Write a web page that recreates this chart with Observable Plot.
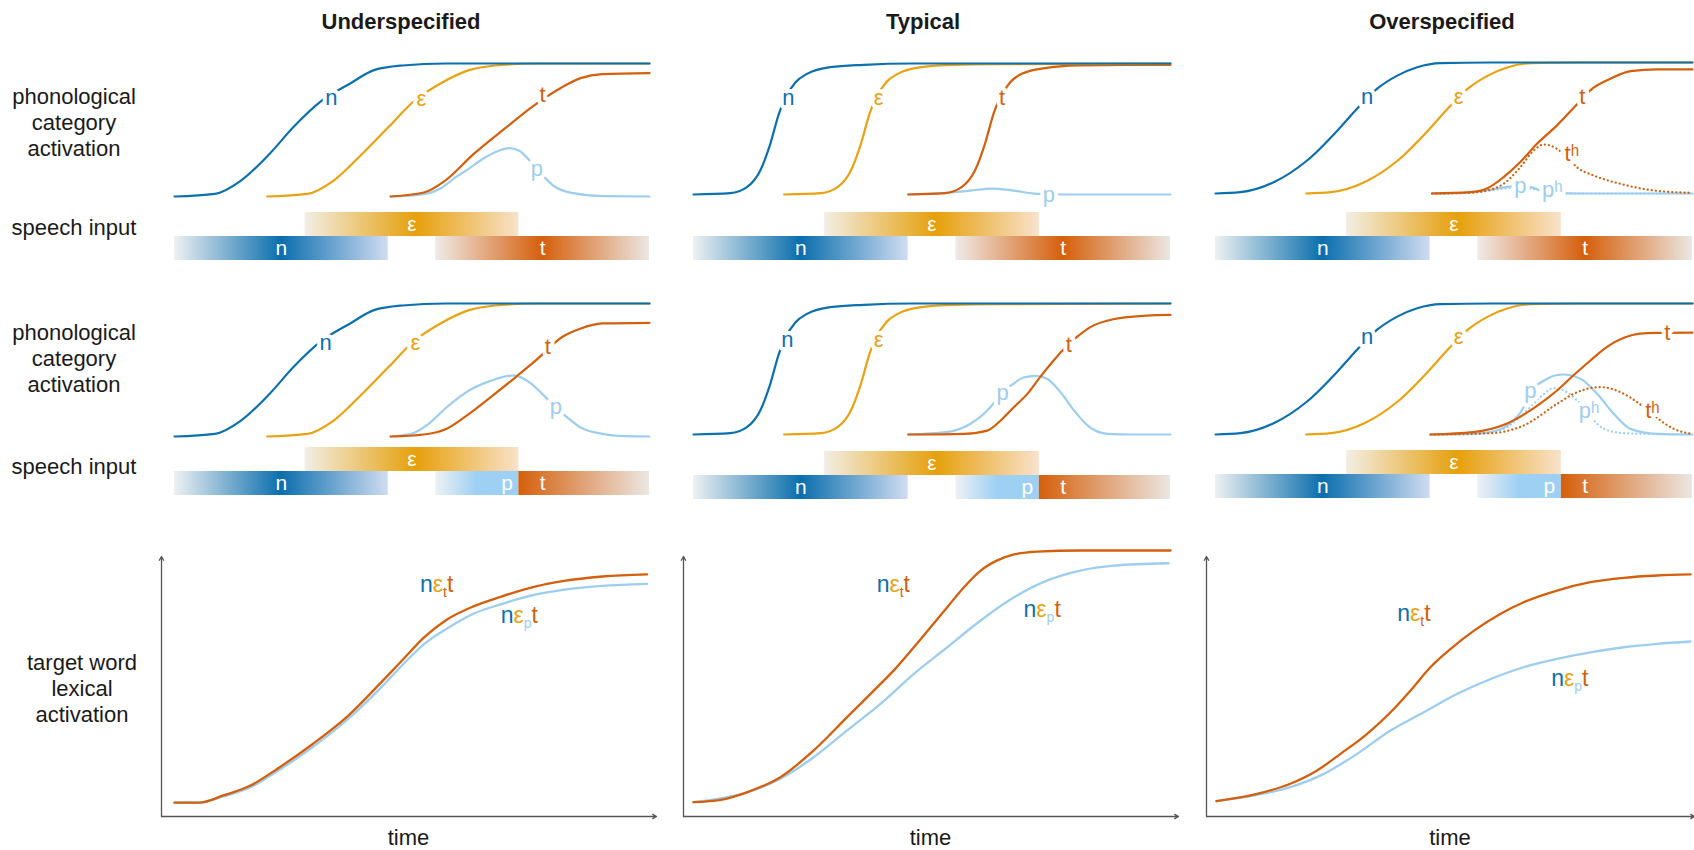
<!DOCTYPE html>
<html>
<head>
<meta charset="utf-8">
<script src="https://cdn.jsdelivr.net/npm/d3@7"></script>
<script src="https://cdn.jsdelivr.net/npm/@observablehq/plot@0.6"></script>
<style>
html,body{margin:0;padding:0;background:#fff;}
#fig{position:relative;width:1694px;height:850px;overflow:hidden;background:#fff;}
.lab{position:absolute;white-space:pre;text-align:center;color:#1a1a1a;line-height:26px;transform:translate(-50%,-50%);}
svg{overflow:visible;}
</style>
</head>
<body>
<div id="fig"></div>
<svg width="0" height="0" style="position:absolute">
  <defs id="gradDefs"></defs>
</svg>
<script>
// ================= DATA =================
const conditions = ["Underspecified", "Typical", "Overspecified"];
const rowTitles = ["phonological\ncategory\nactivation", "speech input", "phonological\ncategory\nactivation", "speech input", "target word\nlexical\nactivation"];
const axisTitle = "time";

// ---- Underspecified: phonological category activation [time, activation] ----
const under_n  = [[0,0],[8.5,0.02],[14,0.12],[20,0.32],[25,0.52],[31,0.72],[37,0.85],[42,0.95],[48,0.985],[57,1],[100,1]];
const under_e  = [[19.5,0],[28,0.02],[33.5,0.12],[39.5,0.32],[45,0.52],[50.5,0.72],[56,0.85],[62,0.95],[67.5,0.985],[76,1],[100,1]];
const under_t1 = [[45.5,0],[52.5,0.03],[57,0.12],[63,0.32],[69.5,0.51],[75.5,0.68],[81.5,0.82],[85.5,0.89],[90,0.92],[100,0.927]];
const under_p1 = [[45.5,0],[52,0.015],[56,0.06],[59.2,0.145],[62,0.21],[64.8,0.28],[68,0.34],[70.4,0.363],[72.5,0.345],[74,0.3],[76,0.22],[78,0.14],[80,0.075],[84,0.025],[90,0.003],[100,0]];
const under_t2 = [[45.5,0],[52.5,0.015],[57.3,0.058],[62,0.17],[66.7,0.3],[71.4,0.434],[76,0.57],[81.7,0.75],[85.4,0.81],[90,0.85],[100,0.855]];
const under_p2 = [[45.5,0],[49.8,0.02],[53.5,0.095],[57.3,0.22],[62,0.346],[66.7,0.42],[71.4,0.459],[75,0.4],[78,0.3],[80.5,0.21],[82.6,0.145],[85.4,0.07],[90,0.02],[95,0.003],[100,0]];

// ---- Typical ----
const typ_n  = [[0,0],[7.7,0.01],[11.2,0.056],[14,0.183],[16.1,0.387],[17.9,0.616],[19,0.72],[21.4,0.857],[23.8,0.921],[28.7,0.972],[35.7,0.99],[46,1],[100,1]];
const typ_e  = [[19,0],[26.7,0.01],[30.2,0.056],[33,0.183],[35.1,0.387],[36.9,0.616],[38,0.72],[40.4,0.857],[42.8,0.921],[47.7,0.972],[54.7,0.99],[65,0.995],[100,1]];
const typ_t1 = [[45,0],[52.7,0.01],[56.2,0.056],[59,0.183],[61.1,0.387],[62.9,0.616],[64,0.72],[66.4,0.857],[68.8,0.921],[73.7,0.965],[80.7,0.985],[91,0.99],[100,0.99]];
const typ_p1 = [[45,0],[52,0.01],[58,0.03],[62.6,0.045],[67,0.03],[72,0.005],[78,0],[100,0]];
const typ_t2 = [[45,0],[56.7,0.005],[61.6,0.03],[64.4,0.107],[67.2,0.21],[70,0.31],[72.7,0.44],[75.5,0.565],[77.3,0.64],[80.4,0.745],[83.2,0.82],[88,0.88],[95,0.908],[100,0.913]];
const typ_p2 = [[45,0],[53,0.018],[58,0.08],[61.6,0.183],[63.4,0.26],[65,0.33],[67,0.385],[69.2,0.435],[71.7,0.448],[74.2,0.423],[77,0.32],[79.8,0.183],[82.6,0.07],[86.8,0.005],[92,0],[100,0]];

// ---- Overspecified ----
const over_n   = [[0,0],[5.2,0.01],[12.2,0.086],[19.2,0.252],[26.2,0.506],[30,0.66],[33.9,0.8],[38.1,0.9],[42.3,0.964],[47.2,0.995],[57.7,1],[100,1]];
const over_e   = [[19,0],[24.2,0.01],[31.2,0.086],[38.2,0.252],[45.2,0.506],[49,0.66],[52.9,0.8],[57.1,0.9],[61.3,0.964],[66.2,0.995],[76.7,1],[100,1]];
const over_t1  = [[45.4,0],[53.5,0.01],[57,0.04],[60.4,0.125],[63.9,0.24],[67.4,0.38],[71.6,0.52],[75,0.65],[79,0.8],[82.8,0.876],[87,0.934],[92.6,0.947],[100,0.947]];
const over_th1 = [[45.4,0],[53,0.005],[57,0.023],[60.4,0.074],[63.9,0.2],[66.7,0.328],[68.8,0.374],[71.6,0.341],[73.7,0.277],[75.8,0.2],[79.3,0.137],[84.9,0.074],[91.9,0.023],[100,0.005]];
const over_p1  = [[45.4,0],[52,0.005],[56,0.02],[61.8,0.053],[64,0.06],[66.5,0.045],[68.5,0.02],[72,0.005],[76,0],[100,0]];
const over_ph1 = [[45.4,0],[52,0.004],[56,0.015],[61,0.04],[64,0.045],[67,0.03],[70,0.01],[75,0],[100,0]];
const over_t2  = [[45.1,0],[54,0.018],[61,0.082],[68,0.234],[71.6,0.336],[75,0.45],[78.6,0.565],[82,0.667],[85.6,0.738],[89,0.77],[92.5,0.776],[100,0.778]];
const over_th2 = [[45.1,0],[57.7,0.01],[64.6,0.069],[71.6,0.234],[75.1,0.311],[80.7,0.362],[85.6,0.311],[88.4,0.247],[91.2,0.17],[93.3,0.107],[96.1,0.043],[100,0.005]];
const over_p2  = [[45.1,0],[53,0.003],[57.7,0.018],[61.1,0.069],[64.6,0.208],[66,0.32],[68.8,0.41],[72.7,0.458],[76.5,0.425],[80,0.311],[83.5,0.158],[87,0.043],[92.6,0.005],[100,0]];
const over_ph2 = [[45.1,0],[53,0.003],[57.7,0.018],[61.1,0.056],[64.6,0.158],[68.1,0.285],[70.9,0.353],[73.7,0.323],[75.8,0.26],[78,0.17],[80,0.082],[82.8,0.025],[85.6,0.01],[92.6,0.003],[100,0]];

// ---- curve labels ----
const under_lab1 = [{key:"n",text:"n",t:33,v:0.74},{key:"e",text:"ε",t:52,v:0.73},{key:"t",text:"t",t:77.5,v:0.76},{key:"p",text:"p",t:76.3,v:0.21}];
const under_lab2 = [{key:"n",text:"n",t:31.8,v:0.7},{key:"e",text:"ε",t:50.7,v:0.7},{key:"t",text:"t",t:78.6,v:0.67},{key:"p",text:"p",t:80.3,v:0.22}];
const typ_lab1 = [{key:"n",text:"n",t:19.9,v:0.74},{key:"e",text:"ε",t:38.8,v:0.74},{key:"t",text:"t",t:64.7,v:0.74},{key:"p",text:"p",t:74.5,v:0.0}];
const typ_lab2 = [{key:"n",text:"n",t:19.7,v:0.72},{key:"e",text:"ε",t:38.8,v:0.72},{key:"t",text:"t",t:78.7,v:0.68},{key:"p",text:"p",t:64.8,v:0.32}];
const over_lab1 = [{key:"n",text:"n",t:31.8,v:0.735},{key:"e",text:"ε",t:51,v:0.735},{key:"t",text:"t",t:76.9,v:0.735},{key:"th",text:"tʰ",t:74.7,v:0.3},{key:"p",text:"p",t:63.9,v:0.055},{key:"ph",text:"pʰ",t:70.6,v:0.03}];
const over_lab2 = [{key:"n",text:"n",t:31.8,v:0.745},{key:"e",text:"ε",t:51,v:0.745},{key:"t",text:"t",t:94.7,v:0.778},{key:"p",text:"p",t:66,v:0.33},{key:"ph",text:"pʰ",t:78.3,v:0.18},{key:"th",text:"tʰ",t:91.6,v:0.18}];

// ---- speech input segments (time units) ----
const speech1 = [
  {tier:"upper", t1:27.5, t2:72.5, grad:"g_e", label:"ε", lt:50},
  {tier:"lower", t1:0, t2:45, grad:"g_n", label:"n", lt:22.5},
  {tier:"lower", t1:55, t2:100, grad:"g_t", label:"t", lt:77.5}
];
const speech2 = [
  {tier:"upper", t1:27.5, t2:72.5, grad:"g_e", label:"ε", lt:50},
  {tier:"lower", t1:0, t2:45, grad:"g_n", label:"n", lt:22.5},
  {tier:"lower", t1:55, t2:72.5, grad:"g_p", label:"p", lt:70},
  {tier:"lower", t1:72.5, t2:100, grad:"g_t2", label:"t", lt:77.5}
];

// ---- lexical activation (target word) ----
const under_lexT = [0,5.2,10.3,16,21.6,29.1,36.6,43.2,47.9,52.6,57.3,62.9,68.5,76.1,81.7,90.1,99.5];
const under_lex_t = [0.053,0.053,0.081,0.119,0.183,0.279,0.388,0.51,0.6,0.69,0.757,0.808,0.844,0.885,0.905,0.923,0.931];
const under_lex_p = [0.053,0.053,0.077,0.113,0.174,0.267,0.376,0.491,0.581,0.664,0.722,0.78,0.815,0.854,0.872,0.887,0.895];
const typ_lexT_t = [0,5.7,11.2,18.2,25.2,32.2,39.2,42,46.2,49.7,53.2,56.7,60.2,63.7,67.2,72,81.1,100];
const typ_lex_t  = [0.055,0.064,0.093,0.151,0.254,0.382,0.51,0.562,0.651,0.728,0.805,0.882,0.946,0.985,1.008,1.019,1.023,1.023];
const typ_lexT_p = [0,11.2,18.2,25.2,32.2,39.2,46.2,53.2,60.2,67.2,74.2,81.1,88.1,99.6];
const typ_lex_p  = [0.055,0.093,0.145,0.228,0.331,0.433,0.549,0.651,0.754,0.843,0.908,0.946,0.965,0.974];
const over_lexT_t = [0.2,8.7,15.7,21.3,26.2,31.8,36.7,40.9,45.1,49.3,54.2,59.7,64.6,71.6,78.6,85.6,92.6,99.6];
const over_lex_t  = [0.059,0.087,0.126,0.177,0.241,0.318,0.401,0.485,0.575,0.645,0.715,0.779,0.824,0.869,0.901,0.918,0.927,0.931];
const over_lexT_p = [0.2,8.7,15.7,22.7,29.7,36.7,43.7,50.7,57.7,64.6,71.6,78.6,85.6,92.6,99.6];
const over_lex_p  = [0.059,0.083,0.113,0.164,0.241,0.331,0.401,0.472,0.529,0.574,0.606,0.631,0.651,0.664,0.673];
const lexLabelsUnder = [{sub:"t", subKey:"t", t:55.3, v:0.86}, {sub:"p", subKey:"p", t:72.7, v:0.742}];
const lexLabelsTyp   = [{sub:"t", subKey:"t", t:42, v:0.862}, {sub:"p", subKey:"p", t:73.2, v:0.765}];
const lexLabelsOver  = [{sub:"t", subKey:"t", t:41.7, v:0.75}, {sub:"p", subKey:"p", t:74.4, v:0.5}];

// ================= STYLE / LAYOUT =================
const BLUE = "#0d70ae", YELLOW = "#e8a212", ORANGE = "#d45f0c", SKY = "#9dcdef";
const COLOR = {n:BLUE, e:YELLOW, t:ORANGE, p:SKY, th:ORANGE, ph:SKY};
const GRADS = {
  g_n: [[0,"#eef1f3"],[0.5,"#0b6ead"],[1,"#cfdcf1"]],
  g_e: [[0,"#f2eee4"],[0.52,"#e6a00b"],[1,"#f9e2cb"]],
  g_t: [[0,"#efebe8"],[0.5,"#d55f0b"],[1,"#ebe7e3"]],
  g_p: [[0,"#eef1f3"],[0.5,"#9dd0f3"],[1,"#9dd0f3"]],
  g_t2:[[0,"#d55f0b"],[1,"#ebe7e3"]]
};
const COLS = [
  {x0:174, x1:649, axL:161, axR:656, phon:[[196,63],[436,303]], sp:[212,447], title:401},
  {x0:693, x1:1170, axL:683, axR:1178, phon:[[194,63],[434,303]], sp:[212,451], title:923},
  {x0:1215, x1:1692, axL:1206, axR:1694, phon:[[193,62],[434,303]], sp:[212,450], title:1442}
];
const LEX = {base:816, top:556};
const FONT = '"Liberation Sans", Arial, Helvetica, sans-serif';

// gradients
const defs = d3.select("#gradDefs");
for (const [id, stops] of Object.entries(GRADS)) {
  const lg = defs.append("linearGradient").attr("id", id).attr("x1", 0).attr("x2", 1).attr("y1", 0).attr("y2", 0);
  for (const [o, c] of stops) lg.append("stop").attr("offset", o).attr("stop-color", c);
}

const fig = document.getElementById("fig");
function place(node, left, top) {
  node.style.position = "absolute";
  node.style.left = left + "px";
  node.style.top = top + "px";
  fig.appendChild(node);
}
function addLabel(text, cx, cy, size, weight) {
  const d = document.createElement("div");
  d.className = "lab";
  d.textContent = text;
  d.style.left = cx + "px";
  d.style.top = cy + "px";
  d.style.fontFamily = FONT;
  d.style.fontSize = size + "px";
  d.style.fontWeight = weight || "normal";
  fig.appendChild(d);
}

const xy = {x: d => d[0], y: d => d[1]};

function phonPlot(ci, ri, series, labels) {
  const g = COLS[ci], [base, top] = g.phon[ri];
  const fs = 22, mx = 16, mt = 24, mb = 14, W = g.x1 - g.x0;
  const marks = series.map(s => Plot.line(s.data, {
    ...xy, stroke: COLOR[s.key], strokeWidth: 2.2, curve: "monotone-x",
    strokeDasharray: s.dotted ? "0.1 4" : undefined,
    strokeLinecap: s.dotted ? "round" : undefined
  }));
  marks.push(Plot.text(labels, {x: "t", y: "v", text: "text", fill: "white", stroke: "white", strokeWidth: 8, strokeLinejoin: "round", fontSize: fs, fontFamily: FONT}));
  marks.push(Plot.text(labels, {x: "t", y: "v", text: "text", fill: d => COLOR[d.key], fontSize: fs, fontFamily: FONT}));
  const p = Plot.plot({
    width: W + 2 * mx, height: (base - top) + mt + mb,
    marginLeft: mx, marginRight: mx, marginTop: mt, marginBottom: mb,
    x: {domain: [0, 100], axis: null}, y: {domain: [0, 1], axis: null},
    color: {type: "identity"},
    style: {background: "transparent", overflow: "visible"},
    marks
  });
  place(p, g.x0 - mx, top - mt);
}

function speechPlot(ci, ri, bars) {
  const g = COLS[ci], top = g.sp[ri];
  const pad = 4, W = g.x1 - g.x0, H = 48;
  const p = Plot.plot({
    width: W + 2 * pad, height: H,
    marginLeft: pad, marginRight: pad, marginTop: 0, marginBottom: 0,
    x: {domain: [0, 100], axis: null},
    y: {domain: ["upper", "lower"], axis: null, padding: 0},
    color: {type: "identity"},
    style: {background: "transparent", overflow: "visible"},
    marks: [
      Plot.barX(bars, {x1: "t1", x2: "t2", y: "tier", fill: d => `url(#${d.grad})`}),
      Plot.text(bars, {x: "lt", y: "tier", text: "label", fill: "white", fontSize: 21, fontFamily: FONT})
    ]
  });
  place(p, g.x0 - pad, top);
}

function richLabel(lbl, fs) {
  return (index, scales) => {
    const X = scales.x(lbl.t), Y = scales.y(lbl.v);
    const t = d3.create("svg:text")
      .attr("x", X).attr("y", Y)
      .attr("font-family", FONT).attr("font-size", fs);
    t.append("tspan").attr("fill", COLOR.n).text("n");
    t.append("tspan").attr("fill", COLOR.e).text("ε");
    t.append("tspan").attr("fill", COLOR[lbl.subKey]).attr("font-size", Math.round(fs * 0.62)).attr("dy", fs * 0.22).text(lbl.sub);
    t.append("tspan").attr("fill", COLOR.t).attr("dy", -fs * 0.22).text("t");
    return t.node();
  };
}

function lexPlot(ci, target, competitor, labels) {
  const g = COLS[ci];
  const pad = 8, mt = 30, mb = 10, W = g.x1 - g.x0;
  const ml = g.x0 - g.axL + pad, mr = g.axR - g.x1 + pad;
  const tMin = (g.axL - g.x0) / W * 100, tMax = (g.axR - g.x0) / W * 100;
  const axes = [{x1: tMin, y1: 0, x2: tMax, y2: 0}, {x1: tMin, y1: 0, x2: tMin, y2: 1}];
  const p = Plot.plot({
    width: W + ml + mr, height: (LEX.base - LEX.top) + mt + mb,
    marginLeft: ml, marginRight: mr, marginTop: mt, marginBottom: mb,
    x: {domain: [0, 100], axis: null}, y: {domain: [0, 1], axis: null},
    style: {background: "transparent", overflow: "visible"},
    marks: [
      Plot.arrow(axes, {x1: "x1", y1: "y1", x2: "x2", y2: "y2", stroke: "#555", strokeWidth: 1.3, headLength: 5, headAngle: 60}),
      Plot.line(competitor, {...xy, stroke: SKY, strokeWidth: 2.3, curve: "monotone-x"}),
      Plot.line(target, {...xy, stroke: ORANGE, strokeWidth: 2.3, curve: "monotone-x"}),
      ...labels.map(l => richLabel(l, 23))
    ]
  });
  place(p, g.axL - pad, LEX.top - mt);
}

// ================= BUILD =================
const S = (key, data, dotted) => ({key, data, dotted});
phonPlot(0, 0, [S("p", under_p1), S("t", under_t1), S("e", under_e), S("n", under_n)], under_lab1);
phonPlot(0, 1, [S("p", under_p2), S("t", under_t2), S("e", under_e), S("n", under_n)], under_lab2);
phonPlot(1, 0, [S("p", typ_p1), S("t", typ_t1), S("e", typ_e), S("n", typ_n)], typ_lab1);
phonPlot(1, 1, [S("p", typ_p2), S("t", typ_t2), S("e", typ_e), S("n", typ_n)], typ_lab2);
phonPlot(2, 0, [S("ph", over_ph1, true), S("p", over_p1), S("th", over_th1, true), S("t", over_t1), S("e", over_e), S("n", over_n)], over_lab1);
phonPlot(2, 1, [S("ph", over_ph2, true), S("p", over_p2), S("th", over_th2, true), S("t", over_t2), S("e", over_e), S("n", over_n)], over_lab2);

for (let ci = 0; ci < 3; ci++) { speechPlot(ci, 0, speech1); speechPlot(ci, 1, speech2); }

lexPlot(0, d3.zip(under_lexT, under_lex_t), d3.zip(under_lexT, under_lex_p), lexLabelsUnder);
lexPlot(1, d3.zip(typ_lexT_t, typ_lex_t), d3.zip(typ_lexT_p, typ_lex_p), lexLabelsTyp);
lexPlot(2, d3.zip(over_lexT_t, over_lex_t), d3.zip(over_lexT_p, over_lex_p), lexLabelsOver);

conditions.forEach((c, i) => addLabel(c, COLS[i].title, 22, 22, "bold"));
const rowCenters = [[74, 123], [74, 228], [74, 359], [74, 467], [82, 689]];
rowTitles.forEach((t, i) => addLabel(t, rowCenters[i][0], rowCenters[i][1], 22, "normal"));
COLS.forEach(g => addLabel(axisTitle, (g.axL + g.axR) / 2, 838, 22, "normal"));
</script>
</body>
</html>
